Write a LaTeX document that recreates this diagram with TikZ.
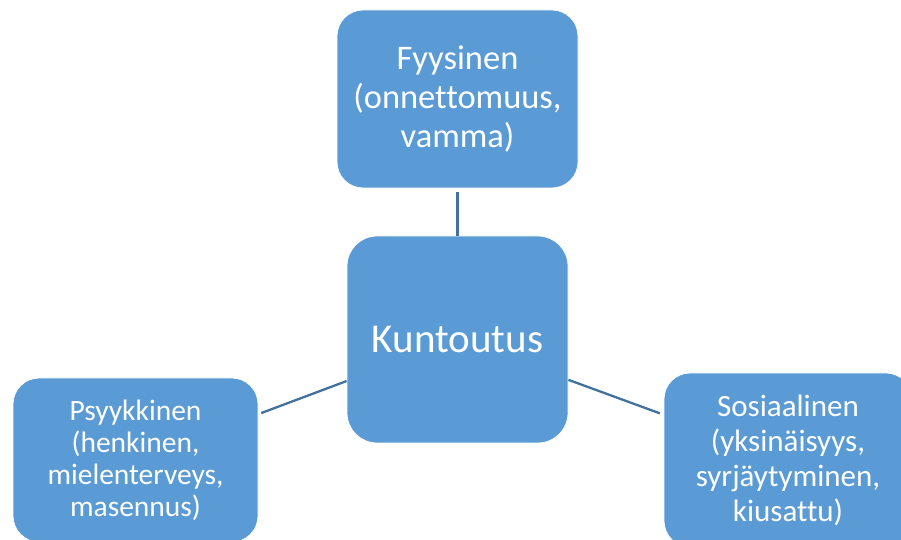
\documentclass[tikz,border=0pt]{standalone}
\usepackage{fontspec}
\setmainfont[Ligatures={NoCommon}]{Carlito}
\definecolor{boxblue}{HTML}{5B9BD5}
\definecolor{linkblue}{HTML}{41719C}
\begin{document}
\begin{tikzpicture}[x=1pt,y=1pt,
  box/.style={draw=white, line width=0.8pt, fill=boxblue, text=white, align=center,
    rounded corners=26pt, inner sep=0pt},
  link/.style={draw=linkblue, line width=2.3pt}]
\useasboundingbox (0,0) rectangle (901,540);
\clip (0,0) rectangle (901,540);
\node[box, minimum width=241pt, minimum height=178pt,
  font=\fontsize{34.5}{39}\selectfont] (top) at (457.5,441)
  {\raisebox{0pt}[\height][\depth]{}Fyysinen\\(onnettomuus,\\vamma)};
\node[box, minimum width=221pt, minimum height=207pt, rounded corners=30pt,
  font=\fontsize{41}{46}\selectfont] (mid) at (457.5,200.5) {Kuntoutus};
\node[box, minimum width=245pt, minimum height=164pt,
  font=\fontsize{29.5}{32}\selectfont] (left) at (135.5,80)
  {Psyykkinen\\(henkinen,\\mielenterveys,\\masennus)};
\node[box, minimum width=248pt, minimum height=174pt,
  font=\fontsize{31}{35}\selectfont] (right) at (788,80)
  {Sosiaalinen\\(yksinäisyys,\\syrjäytyminen,\\kiusattu)};
\draw[link, shorten <=4pt] (top) -- (mid);
\draw[link, shorten >=3pt] (mid) -- (left);
\draw[link, shorten >=4pt] (mid) -- (right);
\end{tikzpicture}
\end{document}
